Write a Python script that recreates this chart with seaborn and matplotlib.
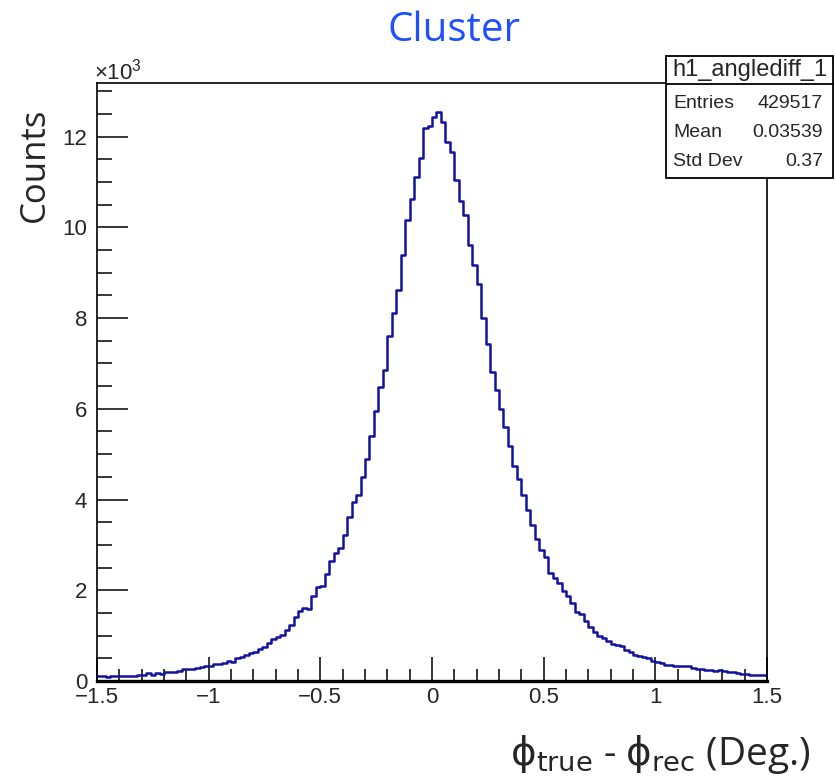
# %%
# Cluster angle difference histogram (ROOT-like look) with seaborn
import numpy as np
import pandas as pd
import matplotlib
matplotlib.use("Agg")
import matplotlib.pyplot as plt
import seaborn as sns
from matplotlib.patches import Rectangle
from matplotlib.lines import Line2D
from matplotlib.ticker import MultipleLocator

# %%
# Bin contents, in units of 10^3 counts
# 150 bins of width 0.02 between -1.5 and 1.5
counts_k = [
    0.10, 0.10, 0.09, 0.10, 0.10, 0.10, 0.11, 0.10, 0.11, 0.14,
    0.14, 0.17, 0.14, 0.17, 0.15, 0.19, 0.19, 0.20, 0.22, 0.26,
    0.26, 0.26, 0.29, 0.30, 0.33, 0.34, 0.38, 0.38, 0.39, 0.45,
    0.41, 0.50, 0.52, 0.58, 0.62, 0.65, 0.70, 0.76, 0.84, 0.92,
    0.97, 1.02, 1.13, 1.24, 1.40, 1.54, 1.60, 1.59, 1.87, 2.07,
    2.10, 2.35, 2.65, 2.82, 2.93, 3.21, 3.61, 3.95, 4.11, 4.50,
    4.90, 5.40, 5.95, 6.48, 6.86, 7.61, 8.11, 8.62, 9.38, 10.15,
    10.63, 11.11, 11.53, 12.19, 12.24, 12.43, 12.55, 12.33, 11.88, 11.66,
    11.05, 10.59, 10.28, 9.60, 9.17, 8.75, 7.99, 7.43, 6.80, 6.42,
    6.00, 5.59, 5.17, 4.73, 4.46, 4.11, 3.76, 3.43, 3.12, 2.88,
    2.73, 2.38, 2.26, 2.15, 1.99, 1.87, 1.71, 1.52, 1.48, 1.32,
    1.19, 1.08, 0.99, 0.95, 0.88, 0.81, 0.79, 0.77, 0.69, 0.64,
    0.58, 0.56, 0.52, 0.50, 0.45, 0.41, 0.39, 0.36, 0.35, 0.34,
    0.33, 0.33, 0.32, 0.28, 0.27, 0.26, 0.24, 0.24, 0.23, 0.24,
    0.22, 0.19, 0.19, 0.18, 0.16, 0.16, 0.14, 0.14, 0.14, 0.13,
]
x_min, x_max = -1.5, 1.5
x_ticks = [-1.5, -1, -0.5, 0, 0.5, 1, 1.5]
x_tick_labels = ["\u22121.5", "\u22121", "\u22120.5", "0", "0.5", "1", "1.5"]
y_ticks = [0, 2, 4, 6, 8, 10, 12]

hist_name = "h1_anglediff_1"
stat_names = ["Entries", "Mean", "Std Dev"]
stat_values = ["429517", "0.03539", "0.37"]

title = "Cluster"
y_title = "Counts"
x_title = r"$\mathrm{\phi_{true}}$ - $\mathrm{\phi_{rec}}$ (Deg.)"

# %%
W, H = 835, 776
def fx(px):
    return px / W
def fy(py):
    return 1 - py / H

sns.set_style("white")
plt.rcParams["font.family"] = ["Liberation Sans", "DejaVu Sans"]
# upright phi with a straight stroke comes from DejaVu Sans
plt.rcParams["mathtext.fontset"] = "custom"
plt.rcParams["mathtext.rm"] = "DejaVu Sans"
plt.rcParams["mathtext.it"] = "DejaVu Sans:italic"
plt.rcParams["mathtext.bf"] = "DejaVu Sans:bold"

fig = plt.figure(figsize=(W / 100, H / 100), dpi=100)
ax = fig.add_axes([fx(97), fy(681), fx(767) - fx(97), fy(83) - fy(681)])

edges = np.linspace(x_min, x_max, len(counts_k) + 1)
df = pd.DataFrame({"angle": 0.5 * (edges[:-1] + edges[1:]), "counts": counts_k})
sns.histplot(data=df, x="angle", weights="counts", bins=edges.tolist(), element="step",
             fill=False, color="#12129c", linewidth=1.8, ax=ax)

ax.set_xlim(x_min, x_max)
ax.set_ylim(0, 13.18)
ax.set_xlabel("")
ax.set_ylabel("")

ax.set_xticks(x_ticks)
ax.set_xticklabels(x_tick_labels)
ax.xaxis.set_minor_locator(MultipleLocator(0.1))
ax.set_yticks(y_ticks)
ax.yaxis.set_minor_locator(MultipleLocator(0.5))
ax.tick_params(axis="x", which="major", direction="in", length=17, width=1.3,
               labelsize=16, pad=4, top=False, bottom=True)
ax.tick_params(axis="x", which="minor", direction="in", length=9, width=1.3,
               top=False, bottom=True)
ax.tick_params(axis="y", which="major", direction="in", length=22, width=1.3,
               labelsize=16, pad=7, left=True, right=False)
ax.tick_params(axis="y", which="minor", direction="in", length=11, width=1.3,
               left=True, right=False)

for side in ["top", "right", "left"]:
    ax.spines[side].set_linewidth(1.2)
    ax.spines[side].set_color("black")
ax.spines["bottom"].set_linewidth(2.4)
ax.spines["bottom"].set_color("black")

# %%
# Titles
fig.text(fx(454), fy(31), title, color="#1f4fff", fontsize=29,
         family=["Open Sans", "DejaVu Sans"], ha="center", va="center")
fig.text(fx(35), fy(108), y_title, fontsize=25, rotation=90,
         family=["Open Sans", "DejaVu Sans"], ha="center", va="top")
fig.text(fx(811), fy(765), x_title, fontsize=28,
         family=["Open Sans", "DejaVu Sans"], ha="right", va="baseline")
fig.text(fx(94), fy(72), "\u00d710$\\mathregular{^{3}}$", fontsize=16,
         ha="left", va="center")

# %%
# Stats box
bx0, bx1, by0, by1, bsep = 666, 833, 56, 178, 84
fig.patches.append(Rectangle((fx(bx0), fy(by1)), fx(bx1) - fx(bx0), fy(by0) - fy(by1),
                             transform=fig.transFigure, facecolor="white",
                             edgecolor="black", linewidth=1.3, zorder=5))
fig.lines.append(Line2D([fx(bx0), fx(bx1)], [fy(bsep), fy(bsep)],
                        transform=fig.transFigure, color="black", linewidth=1.3, zorder=6))
fig.text(fx((bx0 + bx1) / 2), fy(70), hist_name, fontsize=17,
         ha="center", va="center", zorder=7)
for i, (name, val) in enumerate(zip(stat_names, stat_values)):
    yy = 103 + i * 29.5
    fig.text(fx(673), fy(yy), name, fontsize=14, ha="left", va="center", zorder=7)
    fig.text(fx(823), fy(yy), val, fontsize=14, ha="right", va="center", zorder=7)

fig.savefig("out.png", dpi=100)
